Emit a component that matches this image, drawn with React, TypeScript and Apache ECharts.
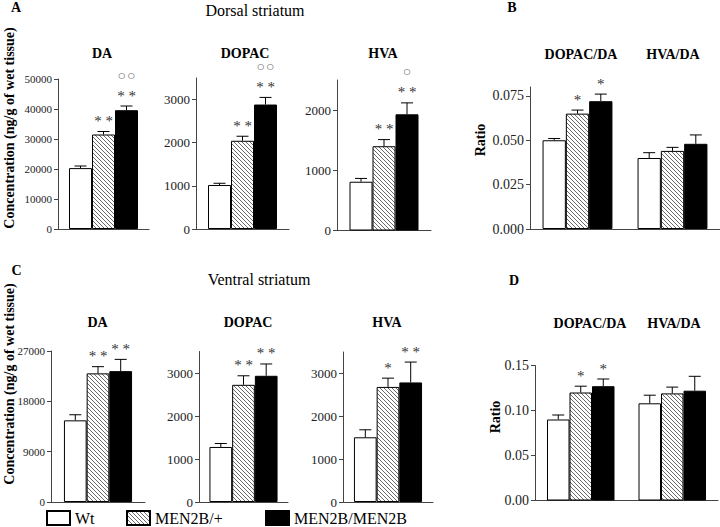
import React, { useEffect, useRef } from "react";
import * as echarts from "echarts";

const groups = ["Wt", "MEN2B/+", "MEN2B/MEN2B"];

// Dorsal striatum (panel A): values per group [Wt, MEN2B/+, MEN2B/MEN2B], error tops
const dorsalDA = [20300, 31500, 39600];
const dorsalDAErr = [21000, 32500, 41000];
const dorsalDAStars = ["", "* *", "* *"];
const dorsalDACircles = ["", "", "○ ○"];
const dorsalDOPAC = [1020, 2045, 2885];
const dorsalDOPACErr = [1060, 2150, 3050];
const dorsalDOPACStars = ["", "* *", "* *"];
const dorsalDOPACCircles = ["", "", "○ ○"];
const dorsalHVA = [810, 1400, 1930];
const dorsalHVAErr = [865, 1510, 2120];
const dorsalHVAStars = ["", "* *", "* *"];
const dorsalHVACircles = ["", "", "○"];

// Dorsal ratios (panel B)
const ratioCategories = ["DOPAC/DA", "HVA/DA"];
const dorsalDopacDa = [0.05, 0.065, 0.072];
const dorsalDopacDaErr = [0.051, 0.067, 0.076];
const dorsalDopacDaStars = ["", "*", "*"];
const dorsalHvaDa = [0.04, 0.044, 0.048];
const dorsalHvaDaErr = [0.043, 0.046, 0.053];
const dorsalHvaDaStars = ["", "", ""];

// Ventral striatum (panel C)
const ventralDA = [14600, 23000, 23400];
const ventralDAErr = [15600, 24200, 25500];
const ventralDAStars = ["", "* *", "* *"];
const ventralDOPAC = [1280, 2725, 2935];
const ventralDOPACErr = [1360, 2935, 3210];
const ventralDOPACStars = ["", "* *", "* *"];
const ventralHVA = [1510, 2685, 2790];
const ventralHVAErr = [1685, 2890, 3265];
const ventralHVAStars = ["", "*", "* *"];

// Ventral ratios (panel D)
const ventralDopacDa = [0.09, 0.12, 0.127];
const ventralDopacDaErr = [0.095, 0.127, 0.135];
const ventralDopacDaStars = ["", "*", "*"];
const ventralHvaDa = [0.108, 0.119, 0.122];
const ventralHvaDaErr = [0.117, 0.126, 0.138];
const ventralHvaDaStars = ["", "", ""];

const none = ["", "", ""];

// Tick labels
const ticksDorsalDA = [0, 10000, 20000, 30000, 40000, 50000];
const ticksDorsalDOPAC = [0, 1000, 2000, 3000];
const ticksDorsalHVA = [0, 1000, 2000];
const ticksDorsalRatio = [0, 0.025, 0.05, 0.075];
const ticksVentralDA = [0, 9000, 18000, 27000];
const ticksVentralDOPAC = [0, 1000, 2000, 3000];
const ticksVentralHVA = [0, 1000, 2000, 3000];
const ticksVentralRatio = [0, 0.05, 0.1, 0.15];

const SERIF = "Liberation Serif";
const SYM = "DejaVu Sans";

type Panel = {
  cats: string[];
  vals: number[][];
  errs: number[][];
  stars: string[][];
  circles: string[][];
  grid: { left: number; top: number; width: number; height: number };
  max: number;
  ticks: number[];
  dec: number;
  fs: number;
  bw: number;
};

const panels: Panel[] = [
  { cats: ["DA"], vals: [dorsalDA], errs: [dorsalDAErr], stars: [dorsalDAStars], circles: [dorsalDACircles],
    grid: { left: 58, top: 79, width: 91, height: 150 }, max: 50000, ticks: ticksDorsalDA, dec: 0, fs: 11, bw: 23 },
  { cats: ["DOPAC"], vals: [dorsalDOPAC], errs: [dorsalDOPACErr], stars: [dorsalDOPACStars], circles: [dorsalDOPACCircles],
    grid: { left: 196, top: 78, width: 93, height: 151 }, max: 3500, ticks: ticksDorsalDOPAC, dec: 0, fs: 13, bw: 23 },
  { cats: ["HVA"], vals: [dorsalHVA], errs: [dorsalHVAErr], stars: [dorsalHVAStars], circles: [dorsalHVACircles],
    grid: { left: 337, top: 80, width: 94, height: 150.5 }, max: 2500, ticks: ticksDorsalHVA, dec: 0, fs: 13, bw: 23 },
  { cats: ratioCategories, vals: [dorsalDopacDa, dorsalHvaDa], errs: [dorsalDopacDaErr, dorsalHvaDaErr],
    stars: [dorsalDopacDaStars, dorsalHvaDaStars], circles: [none, none],
    grid: { left: 530, top: 87, width: 190, height: 142 }, max: 0.08, ticks: ticksDorsalRatio, dec: 3, fs: 14, bw: 23.3 },
  { cats: ["DA"], vals: [ventralDA], errs: [ventralDAErr], stars: [ventralDAStars], circles: [none],
    grid: { left: 51, top: 351, width: 94, height: 151 }, max: 27000, ticks: ticksVentralDA, dec: 0, fs: 11, bw: 22.7 },
  { cats: ["DOPAC"], vals: [ventralDOPAC], errs: [ventralDOPACErr], stars: [ventralDOPACStars], circles: [none],
    grid: { left: 199, top: 351.5, width: 89, height: 150.5 }, max: 3500, ticks: ticksVentralDOPAC, dec: 0, fs: 13, bw: 22.7 },
  { cats: ["HVA"], vals: [ventralHVA], errs: [ventralHVAErr], stars: [ventralHVAStars], circles: [none],
    grid: { left: 343, top: 352, width: 90, height: 150 }, max: 3500, ticks: ticksVentralHVA, dec: 0, fs: 13, bw: 22.7 },
  { cats: ratioCategories, vals: [ventralDopacDa, ventralHvaDa], errs: [ventralDopacDaErr, ventralHvaDaErr],
    stars: [ventralDopacDaStars, ventralHvaDaStars], circles: [none, none],
    grid: { left: 535, top: 365.5, width: 183, height: 135 }, max: 0.15, ticks: ticksVentralRatio, dec: 2, fs: 14, bw: 22.5 },
];

// Hatch tile: diagonal lines falling to the right ("\\\\")
function makeHatch(): HTMLCanvasElement {
  const n = 4;
  const c = document.createElement("canvas");
  c.width = n;
  c.height = n;
  const ctx = c.getContext("2d")!;
  ctx.fillStyle = "#fff";
  ctx.fillRect(0, 0, n, n);
  ctx.fillStyle = "#6a6a6a";
  for (let i = 0; i < n; i++) ctx.fillRect(i, i, 1, 1);
  return c;
}

function txt(text: string, x: number, y: number, size: number, bold: boolean, rot = 0) {
  return {
    type: "text",
    x,
    y,
    rotation: rot,
    style: {
      text,
      fontFamily: SERIF,
      fontSize: size,
      fontWeight: bold ? "bold" : "normal",
      fill: "#000",
      textAlign: "center",
      textVerticalAlign: "middle",
      align: "center",
      verticalAlign: "middle",
    },
  };
}

function buildOption() {
  const hatch = { image: makeHatch(), repeat: "repeat" };
  const groupStyles = [
    { color: "#fff", borderColor: "#000", borderWidth: 1 },
    { color: hatch, borderColor: "#000", borderWidth: 1 },
    { color: "#000", borderColor: "#000", borderWidth: 1 },
  ];

  const grid: any[] = [];
  const xAxis: any[] = [];
  const yAxis: any[] = [];
  const series: any[] = [];

  panels.forEach((p, i) => {
    grid.push({ ...p.grid, containLabel: false });
    xAxis.push({
      type: "category",
      gridIndex: i,
      data: p.cats,
      axisLine: { show: true, lineStyle: { color: "#444", width: 1 } },
      axisTick: { show: false },
      axisLabel: { show: false },
    });
    yAxis.push({
      type: "value",
      gridIndex: i,
      min: 0,
      max: p.max,
      interval: p.ticks[1],
      axisLine: { show: true, lineStyle: { color: "#444", width: 1 } },
      axisTick: { show: true, length: 4, customValues: p.ticks, lineStyle: { color: "#444" } },
      axisLabel: {
        customValues: p.ticks,
        formatter: (v: number) => (p.dec ? v.toFixed(p.dec) : String(Math.round(v))),
        fontFamily: SERIF,
        fontSize: p.fs,
        color: "#222",
        margin: 6,
      },
      splitLine: { show: false },
    });
    groups.forEach((g, gi) => {
      series.push({
        type: "bar",
        name: g,
        xAxisIndex: i,
        yAxisIndex: i,
        barWidth: p.bw,
        barGap: "0%",
        itemStyle: groupStyles[gi],
        data: p.cats.map((_, ci) => p.vals[ci][gi]),
      });
    });
    const errData: number[][] = [];
    p.cats.forEach((_, ci) => {
      groups.forEach((__, gi) => {
        errData.push([ci, gi, p.vals[ci][gi], p.errs[ci][gi]]);
      });
    });
    series.push({
      type: "custom",
      xAxisIndex: i,
      yAxisIndex: i,
      z: 5,
      itemStyle: { color: "#444" },
      data: errData,
      encode: { x: 0, y: 3 },
      renderItem: (params: any, api: any) => {
        const ci = api.value(0);
        const gi = api.value(1);
        const base = api.coord([ci, api.value(2)]);
        const top = api.coord([ci, api.value(3)]);
        const x = base[0] + (gi - 1) * p.bw;
        const children: any[] = [
          { type: "line", shape: { x1: x, y1: base[1], x2: x, y2: top[1] }, style: { stroke: "#000", lineWidth: 1 } },
          { type: "line", shape: { x1: x - 6, y1: top[1], x2: x + 6, y2: top[1] }, style: { stroke: "#000", lineWidth: 1 } },
        ];
        const s = p.stars[ci][gi];
        if (s) {
          children.push({
            type: "text",
            x,
            y: top[1] - 3,
            style: { text: s, fontFamily: SERIF, fontSize: 15, fill: "#333", align: "center", verticalAlign: "bottom", textAlign: "center", textVerticalAlign: "bottom" },
          });
        }
        const c = p.circles[ci][gi];
        if (c) {
          children.push({
            type: "text",
            x,
            y: top[1] - 31,
            style: { text: c, fontFamily: SYM, fontSize: 8, fill: "#333", align: "center", verticalAlign: "middle", textAlign: "center", textVerticalAlign: "middle" },
          });
        }
        return { type: "group", children };
      },
    });
  });

  const graphic = [
    txt("A", 16, 7, 14, true),
    txt("B", 512, 7, 14, true),
    txt("C", 16.5, 270, 14, true),
    txt("D", 514, 280, 14, true),
    txt("Dorsal striatum", 255, 10, 16, false),
    txt("Ventral striatum", 259, 279, 16, false),
    txt("DA", 102, 53, 14, true),
    txt("DOPAC", 245, 53, 14, true),
    txt("HVA", 383, 53, 14, true),
    txt("DOPAC/DA", 581, 54, 14, true),
    txt("HVA/DA", 673, 54, 14, true),
    txt("DA", 97.5, 322, 14, true),
    txt("DOPAC", 248, 322, 14, true),
    txt("HVA", 387, 322, 14, true),
    txt("DOPAC/DA", 590, 323, 14, true),
    txt("HVA/DA", 674, 323, 14, true),
    txt("Concentration (ng/g of wet tissue)", 9, 128, 14, true, Math.PI / 2),
    txt("Concentration (ng/g of wet tissue)", 9, 384, 14, true, Math.PI / 2),
    txt("Ratio", 480, 140, 14, true, Math.PI / 2),
    txt("Ratio", 495, 417, 14, true, Math.PI / 2),
  ];

  const legendLefts = [46, 126, 265];
  const legend = groups.map((g, gi) => ({
    data: [g],
    left: legendLefts[gi],
    top: 510,
    itemWidth: 23,
    itemHeight: 14,
    icon: "rect",
    selectedMode: false,
    padding: 0,
    textStyle: { fontFamily: SERIF, fontSize: 16, color: "#000" },
  }));

  return {
    animation: false,
    backgroundColor: "#fff",
    textStyle: { fontFamily: SERIF },
    grid,
    xAxis,
    yAxis,
    series,
    graphic,
    legend,
  };
}

export default function App() {
  const ref = useRef<HTMLDivElement>(null);
  useEffect(() => {
    if (!ref.current) return;
    const chart = echarts.init(ref.current, undefined, { renderer: "svg" });
    chart.setOption(buildOption() as any);
    return () => chart.dispose();
  }, []);
  return (
    <div
      ref={ref}
      style={{ position: "fixed", left: 0, top: 0, width: 720, height: 527, background: "#fff" }}
    />
  );
}
